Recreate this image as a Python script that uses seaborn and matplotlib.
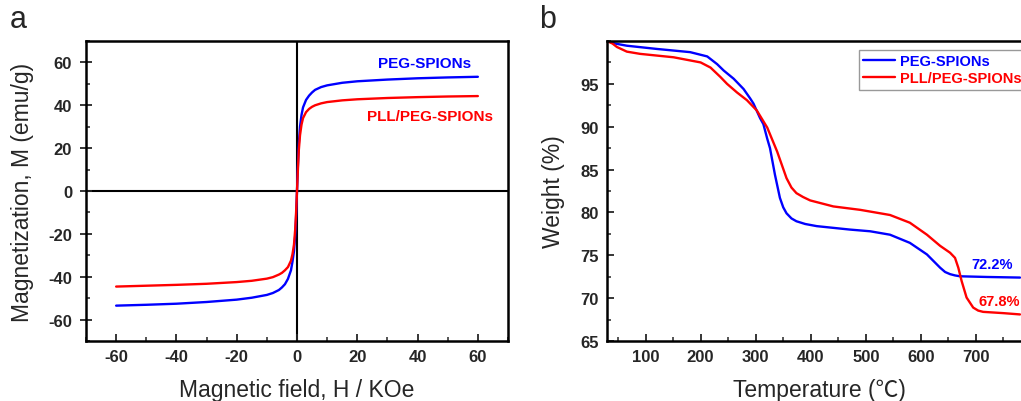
import numpy as np
import pandas as pd
import seaborn as sns
import matplotlib.pyplot as plt
from matplotlib.ticker import MultipleLocator

# ---- panel a: magnetization loops ----
peg_h = [-60, -50, -40, -30, -20, -15, -10, -8, -6, -5, -4, -3, -2, -1.5, -1, -0.6, -0.3, 0,
         0.3, 0.6, 1, 1.5, 2, 3, 4, 5, 6, 8, 10, 15, 20, 30, 40, 50, 60]
peg_m = [-53.5, -53.1, -52.6, -51.8, -50.7, -49.8, -48.5, -47.6, -46.2, -45, -43.5, -41, -37, -33, -28, -21, -12, 0,
         12, 22, 30, 35.5, 39, 42.5, 44.5, 46, 47.2, 48.5, 49.3, 50.5, 51.2, 52, 52.6, 53.0, 53.3]
pll_h = peg_h
pll_m = [-44.6, -44.2, -43.8, -43.3, -42.5, -41.9, -40.9, -40.2, -39, -38.2, -37, -35.5, -32.5, -29.5, -25, -18, -10, 0,
         10, 19, 26, 31, 34, 36.8, 38.3, 39.3, 40, 40.9, 41.5, 42.3, 42.8, 43.4, 43.8, 44.1, 44.3]

# ---- panel b: TGA ----
peg_t = [30, 45, 66, 121, 181, 212, 230, 242, 260, 278, 290, 296, 308, 314, 321, 326, 335, 344, 350, 356, 365, 374,
         390, 411, 471, 508, 544, 580, 611, 635, 644, 653, 662, 671, 720, 780]
peg_w = [100, 99.7, 99.45, 99.07, 98.7, 98.2, 97.3, 96.55, 95.6, 94.4, 93.3, 92.7, 91.0, 90.3, 88.6, 87.5, 84.4, 81.7,
         80.6, 79.9, 79.3, 78.97, 78.65, 78.4, 78.0, 77.8, 77.4, 76.45, 75.1, 73.55, 73.05, 72.8, 72.65, 72.55, 72.47, 72.4]
pll_t = [30, 40, 48, 66, 90, 151, 200, 218, 236, 248, 266, 284, 302, 321, 339, 356, 365, 374, 386, 399, 441, 490,
         526, 544, 580, 611, 635, 653, 662, 668, 674, 683, 695, 704, 713, 750, 780]
pll_w = [100, 99.7, 99.3, 98.76, 98.5, 98.1, 97.5, 96.9, 95.8, 95.0, 94.0, 93.1, 91.9, 89.9, 87.1, 84.0, 82.9, 82.25,
         81.8, 81.4, 80.7, 80.3, 79.9, 79.7, 78.8, 77.4, 76.1, 75.3, 74.7, 73.55, 72.0, 70.07, 68.9, 68.55, 68.4, 68.25, 68.1]

names = ['PEG-SPIONs', 'PLL/PEG-SPIONs']
colors = ['#0000ff', '#ff0000']

sns.set_style('ticks')
plt.rcParams['font.family'] = ['Liberation Sans', 'Noto Sans CJK SC', 'DejaVu Sans']
plt.rcParams['axes.unicode_minus'] = False
plt.rcParams['xtick.direction'] = 'in'
plt.rcParams['ytick.direction'] = 'in'

fig = plt.figure(figsize=(10.21, 4.02), dpi=100)
ax1 = fig.add_axes([86 / 1021, 60 / 402, 422 / 1021, 300 / 402])
ax2 = fig.add_axes([607 / 1021, 60 / 402, 424 / 1021, 300 / 402])

mag = pd.DataFrame({'H': peg_h + pll_h, 'M': peg_m + pll_m,
                    'sample': [names[0]] * len(peg_h) + [names[1]] * len(pll_h)})
tga = pd.DataFrame({'T': peg_t + pll_t, 'W': peg_w + pll_w,
                    'sample': [names[0]] * len(peg_t) + [names[1]] * len(pll_t)})

sns.lineplot(data=mag, x='H', y='M', hue='sample', palette=colors, sort=False,
             estimator=None, linewidth=1.7, legend=False, ax=ax1)
ax1.axhline(0, color='black', lw=1.5, zorder=0)
ax1.axvline(0, color='black', lw=1.5, zorder=0)
ax1.set_xlim(-70, 70)
ax1.set_ylim(-70, 70)
ax1.xaxis.set_major_locator(MultipleLocator(20))
ax1.xaxis.set_minor_locator(MultipleLocator(10))
ax1.yaxis.set_major_locator(MultipleLocator(20))
ax1.yaxis.set_minor_locator(MultipleLocator(10))
ax1.set_xlabel('Magnetic field, H / KOe', fontsize=16.5, labelpad=10)
ax1.set_ylabel('Magnetization, M (emu/g)', fontsize=16.5, labelpad=10)
ax1.text(26.8, 59.8, names[0], color=colors[0], fontsize=11, fontweight='bold', ha='left', va='center')
ax1.text(23.2, 35, names[1], color=colors[1], fontsize=11, fontweight='bold', ha='left', va='center')

sns.lineplot(data=tga, x='T', y='W', hue='sample', palette=colors, sort=False,
             estimator=None, linewidth=1.7, ax=ax2)
ax2.set_xlim(30, 800)
ax2.set_ylim(65, 100)
ax2.xaxis.set_minor_locator(MultipleLocator(50))
ax2.yaxis.set_minor_locator(MultipleLocator(2.5))
ax2.set_yticks([65, 70, 75, 80, 85, 90, 95])
ax2.set_xticks([100, 200, 300, 400, 500, 600, 700])
ax2.set_xlabel('Temperature (\u2103)', fontsize=16.5, labelpad=10)
ax2.set_ylabel('Weight (%)', fontsize=16.5, labelpad=11)
ax2.text(692, 74.0, '72.2%', color=colors[0], fontsize=10.5, fontweight='bold', ha='left', va='center')
ax2.text(704, 69.7, '67.8%', color=colors[1], fontsize=10.5, fontweight='bold', ha='left', va='center')
leg = ax2.legend(loc='upper left', bbox_to_anchor=((859 - 607) / 424, (342 - 51) / 300), fontsize=10.5,
                 frameon=True, fancybox=False, edgecolor='#808080', labelcolor='linecolor',
                 handlelength=2.2, handletextpad=0.3, borderpad=0.3, labelspacing=0.2,
                 borderaxespad=0)
leg.get_frame().set_linewidth(1.0)
for t in leg.get_texts():
    t.set_fontweight('bold')

for ax in (ax1, ax2):
    for s in ax.spines.values():
        s.set_linewidth(1.8)
        s.set_color('black')
    ax.tick_params(which='major', length=5, width=1.3, labelsize=12, pad=6)
    ax.tick_params(which='minor', length=3, width=1.1)
    for lab in ax.get_xticklabels() + ax.get_yticklabels():
        lab.set_fontweight('bold')
ax1.tick_params(axis='y', which='major', direction='inout', length=8)

fig.text(0.01, 0.93, 'a', fontsize=22)
fig.text(0.528, 0.93, 'b', fontsize=22)

fig.savefig('out.png', dpi=100)
